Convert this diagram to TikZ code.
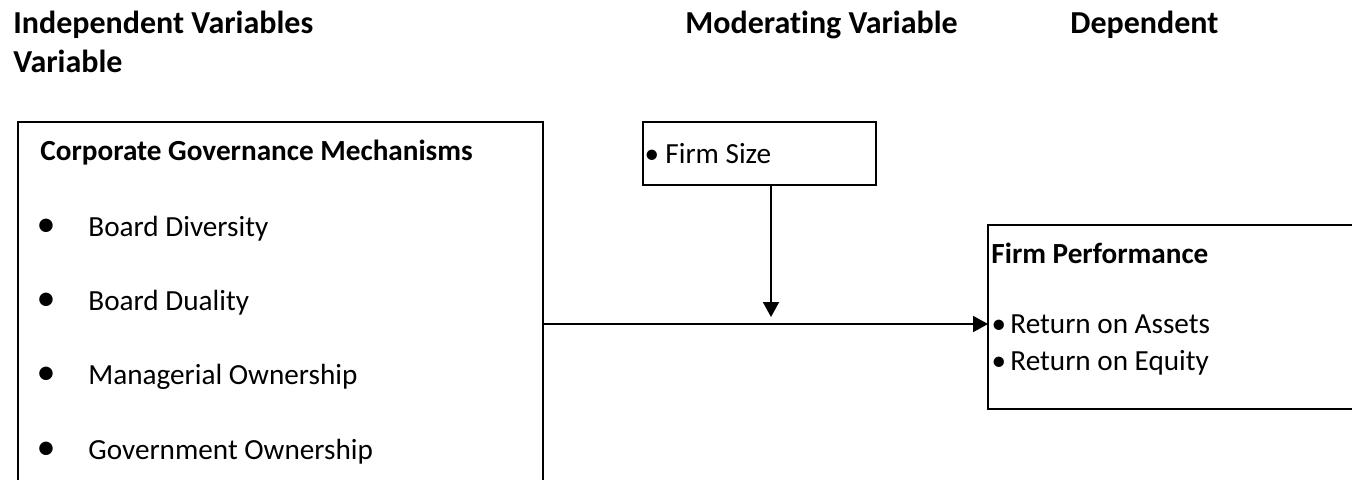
\documentclass[tikz,border=0pt]{standalone}
\usepackage{fontspec}
\setmainfont[Ligatures=NoCommon]{Carlito}
\usetikzlibrary{arrows.meta}

\begin{document}
\begin{tikzpicture}[x=0.5pt,y=-0.5pt,
    top/.style={anchor=base west,inner sep=0pt,font=\fontsize{16}{19}\selectfont\bfseries},
    head/.style={anchor=base west,inner sep=0pt,font=\fontsize{14.6}{17}\selectfont\bfseries},
    item/.style={anchor=base west,inner sep=0pt,font=\fontsize{14.6}{17}\selectfont},
    dot/.style={anchor=base,inner sep=0pt,font=\fontsize{14.6}{17}\selectfont},
    bigdot/.style={anchor=base,inner sep=0pt,font=\fontsize{19}{20}\selectfont},
    box/.style={draw,line width=1pt,anchor=north west,inner sep=0pt,outer sep=0pt},
    link/.style={line width=1pt,-{Triangle[length=7.5pt,width=8pt]}}]
    \useasboundingbox (0,0) rectangle (1352,479);
    % column headings
    \node[top] (indep) at (13,33) {Independent Variables};
    \node[top] (indep2) at (13,72) {Variable};
    \node[top] (moder) at (685,33) {Moderating Variable};
    \node[top] (dep) at (1070,33) {Dependent};
    % boxes
    \node[box,minimum width=262.5pt,minimum height=202pt] (cgm) at (18,122) {};
    \node[box,minimum width=116.5pt,minimum height=31.5pt] (size) at (643,122) {};
    \node[box,minimum width=200pt,minimum height=92pt] (perf) at (988,225) {};
    % independent variables
    \node[head] (cgmtitle) at (40,160) {Corporate Governance Mechanisms};
    \foreach \y/\txt [count=\i] in {236/Board Diversity,310/Board Duality,384/Managerial Ownership,459/Government Ownership}{
        \node[bigdot] (b\i) at (46,\y) {\textbullet};
        \node[item] (t\i) at (88,\y) {\txt};
    }
    % moderating variable
    \node[dot] (sdot) at (652,163) {\textbullet};
    \node[item] (stxt) at (665,163) {Firm Size};
    % dependent variable
    \node[head] (perftitle) at (991,263) {Firm Performance};
    \node[dot] (rdot1) at (999,333) {\textbullet};
    \node[item] (roa) at (1010,333) {Return on Assets};
    \node[dot] (rdot2) at (999,370) {\textbullet};
    \node[item] (roe) at (1010,370) {Return on Equity};
    % connectors
    \coordinate (join) at (771,324);
    \draw[link] (cgm.east |- join) -- (join -| perf.west);
    \draw[link] (size.south -| join) -- ([yshift=3.5pt]join);
\end{tikzpicture}
\end{document}
